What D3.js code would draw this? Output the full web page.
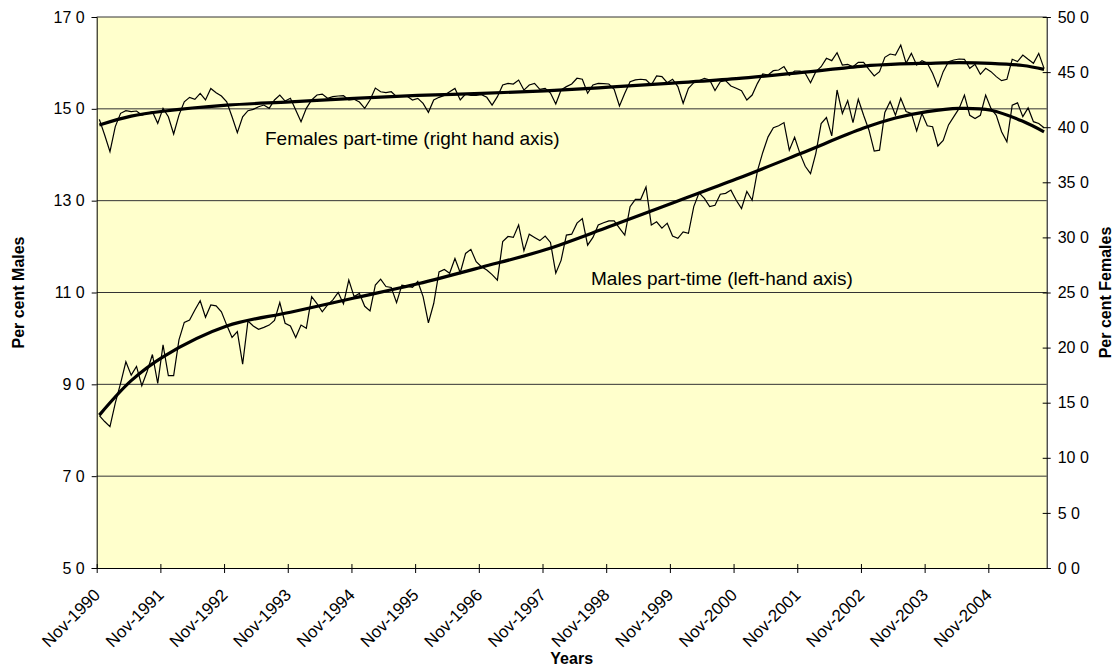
<!DOCTYPE html>
<html>
<head>
<meta charset="utf-8">
<script src="https://cdn.jsdelivr.net/npm/d3@7"></script>
<style>
  body { margin: 0; background: #fff; }
  svg { display: block; font-family: Arial, "Liberation Sans", sans-serif; }
</style>
</head>
<body>
<div id="chart"></div>
<script>
// Part-time share of employment, monthly, Nov-1990 to Sep-2005
let males = [
  8.32, 8.19, 8.08, 8.59, 9.02, 9.49, 9.20, 9.39, 8.97, 9.28, 9.65, 9.02,
  9.86, 9.19, 9.19, 9.97, 10.35, 10.40, 10.62, 10.82, 10.46, 10.73, 10.71, 10.58,
  10.29, 10.02, 10.15, 9.44, 10.38, 10.27, 10.20, 10.24, 10.29, 10.39, 10.78, 10.33,
  10.27, 10.02, 10.29, 10.22, 10.91, 10.76, 10.58, 10.73, 10.84, 11.00, 10.75, 11.27,
  10.91, 10.98, 10.70, 10.60, 11.16, 11.29, 11.13, 11.11, 10.78, 11.16, 11.14, 11.11,
  11.24, 10.91, 10.34, 10.76, 11.45, 11.50, 11.42, 11.74, 11.43, 11.85, 11.94, 11.67,
  11.56, 11.49, 11.39, 11.27, 12.11, 12.22, 12.20, 12.47, 11.91, 12.27, 12.20, 12.13,
  12.23, 12.09, 11.42, 11.70, 12.25, 12.27, 12.51, 12.61, 12.03, 12.20, 12.47, 12.52,
  12.56, 12.56, 12.40, 12.25, 12.87, 13.03, 13.03, 13.30, 12.47, 12.54, 12.40, 12.51,
  12.23, 12.18, 12.32, 12.29, 12.87, 13.17, 13.05, 12.87, 12.90, 13.14, 13.16, 13.23,
  13.01, 12.83, 13.20, 13.01, 13.65, 14.05, 14.39, 14.59, 14.63, 14.70, 14.10, 14.38,
  14.03, 13.75, 13.59, 14.03, 14.68, 14.81, 14.41, 15.41, 14.90, 15.18, 14.70, 15.21,
  14.86, 14.54, 14.08, 14.10, 14.92, 15.16, 14.86, 15.23, 14.94, 14.90, 14.52, 14.90,
  14.63, 14.61, 14.19, 14.31, 14.65, 14.83, 15.01, 15.30, 14.86, 14.79, 14.86, 15.30,
  15.01, 14.86, 14.50, 14.28, 15.08, 15.13, 14.83, 15.02, 14.72, 14.68, 14.59
];

let females = [
  40.71, 39.29, 37.78, 40.05, 41.26, 41.50, 41.41, 41.47, 41.10, 41.26, 41.41, 40.35,
  41.71, 40.95, 39.38, 41.10, 42.31, 42.71, 42.53, 43.07, 42.47, 43.52, 43.13, 42.83,
  42.31, 40.95, 39.50, 40.95, 41.50, 41.62, 41.86, 42.01, 41.71, 42.47, 42.92, 42.37,
  42.62, 41.56, 40.50, 41.71, 42.47, 42.92, 43.00, 42.62, 42.77, 42.83, 42.86, 42.47,
  42.53, 42.28, 41.71, 42.47, 43.55, 43.22, 43.13, 43.22, 42.77, 42.83, 42.80, 42.47,
  42.62, 42.16, 41.35, 42.47, 42.71, 42.89, 43.22, 43.52, 42.47, 43.01, 42.89, 42.89,
  42.95, 42.71, 42.01, 42.77, 43.83, 43.98, 43.92, 44.28, 43.37, 43.83, 43.98, 43.43,
  43.52, 43.10, 42.10, 43.38, 43.68, 43.92, 44.44, 44.35, 43.08, 43.83, 43.98, 43.95,
  43.92, 43.44, 41.93, 43.08, 44.13, 44.29, 44.35, 44.29, 43.83, 44.65, 44.59, 44.04,
  44.35, 43.68, 42.17, 43.53, 44.04, 44.22, 44.44, 44.29, 43.32, 44.13, 44.22, 43.74,
  43.53, 43.32, 42.47, 42.92, 43.98, 44.83, 44.74, 45.13, 45.19, 45.50, 44.70, 45.10,
  45.10, 44.89, 44.04, 45.04, 45.49, 46.25, 46.04, 46.76, 45.64, 45.70, 45.49, 45.89,
  45.89, 45.25, 44.65, 45.04, 46.34, 46.64, 46.55, 47.46, 45.80, 46.70, 45.64, 46.04,
  45.80, 44.89, 43.68, 45.04, 45.95, 46.10, 46.19, 46.16, 45.34, 45.70, 44.80, 45.34,
  45.04, 44.59, 44.22, 44.34, 46.16, 45.95, 46.55, 46.16, 45.80, 46.70, 45.34
];

// trend lines at these month positions
let trendMonths = [0, 6, 12, 24, 36, 48, 60, 72, 84, 96, 108, 120, 132, 144, 150, 156, 162, 168, 174, 178];
let maleTrend = [8.33, 9.08, 9.6, 10.27, 10.57, 10.88, 11.19, 11.55, 11.93, 12.43, 12.95, 13.47, 14.02, 14.58, 14.80, 14.94, 15.01, 14.97, 14.73, 14.50];
let femaleTrend = [40.2, 41.0, 41.45, 42.0, 42.3, 42.62, 42.88, 43.07, 43.3, 43.63, 44.0, 44.4, 44.95, 45.55, 45.72, 45.8, 45.86, 45.8, 45.6, 45.25];

let yearTicks = [0, 12, 24, 36, 48, 60, 72, 84, 96, 108, 120, 132, 144, 156, 168];
let yearLabels = ['Nov-1990', 'Nov-1991', 'Nov-1992', 'Nov-1993', 'Nov-1994', 'Nov-1995', 'Nov-1996',
  'Nov-1997', 'Nov-1998', 'Nov-1999', 'Nov-2000', 'Nov-2001', 'Nov-2002', 'Nov-2003', 'Nov-2004'];

let leftTicks = [5, 7, 9, 11, 13, 15, 17];
let leftLabels = ['5 0', '7 0', '9 0', '11 0', '13 0', '15 0', '17 0'];
let rightTicks = [0, 5, 10, 15, 20, 25, 30, 35, 40, 45, 50];
let rightLabels = ['0 0', '5 0', '10 0', '15 0', '20 0', '25 0', '30 0', '35 0', '40 0', '45 0', '50 0'];

// svg size and plot area
let svgWidth = 1114;
let svgHeight = 667;
let plot = { left: 96.7, right: 1046.7, top: 17, bottom: 568 };
let fontFamily = 'Arial, "Liberation Sans", sans-serif';

let svg = d3.select('#chart')
  .append('svg')
  .attr('width', svgWidth)
  .attr('height', svgHeight);

// scales: category axis with points between tick marks
let xScale = d3.scaleLinear()
  .domain([0, males.length])
  .range([plot.left, plot.right]);
let xPoint = i => xScale(i + 0.5);

let yLeft = d3.scaleLinear().domain([5, 17]).range([plot.bottom, plot.top]);
let yRight = d3.scaleLinear().domain([0, 50]).range([plot.bottom, plot.top]);

// plot background
svg.append('rect')
  .attr('x', plot.left)
  .attr('y', plot.top)
  .attr('width', plot.right - plot.left)
  .attr('height', plot.bottom - plot.top)
  .attr('fill', '#FFFFCC');

// gridlines
svg.append('g')
  .selectAll('line')
  .data(leftTicks.slice(1))
  .enter()
  .append('line')
  .attr('x1', plot.left)
  .attr('x2', plot.right)
  .attr('y1', d => yLeft(d))
  .attr('y2', d => yLeft(d))
  .attr('stroke', '#333')
  .attr('stroke-width', 1);

// left axis
let leftAxis = d3.axisLeft(yLeft)
  .tickValues(leftTicks)
  .tickSize(5)
  .tickPadding(7)
  .tickFormat((d, i) => leftLabels[i]);

svg.append('g')
  .attr('transform', `translate(${plot.left}, 0)`)
  .call(leftAxis)
  .call(g => g.selectAll('text').attr('font-size', 16).attr('fill', '#000').attr('font-family', fontFamily))
  .call(g => g.selectAll('line, path').attr('stroke', '#000'));

// right axis, ticks cross the axis line
let rightAxis = d3.axisRight(yRight)
  .tickValues(rightTicks)
  .tickSize(4)
  .tickPadding(7)
  .tickFormat((d, i) => rightLabels[i]);

svg.append('g')
  .attr('transform', `translate(${plot.right}, 0)`)
  .call(rightAxis)
  .call(g => g.selectAll('.tick line').attr('x1', -4))
  .call(g => g.selectAll('text').attr('font-size', 16).attr('fill', '#000').attr('font-family', fontFamily))
  .call(g => g.selectAll('line, path').attr('stroke', '#000'));

// bottom axis
let bottomAxis = d3.axisBottom(xScale)
  .tickValues(yearTicks)
  .tickSize(5)
  .tickSizeOuter(0)
  .tickFormat((d, i) => yearLabels[i]);

svg.append('g')
  .attr('transform', `translate(0, ${plot.bottom})`)
  .call(bottomAxis)
  .call(g => g.selectAll('.tick line').attr('y1', -4))
  .call(g => g.selectAll('line, path').attr('stroke', '#000'))
  .call(g => g.selectAll('text')
    .attr('font-size', 17)
    .attr('fill', '#000')
    .attr('font-family', fontFamily)
    .attr('text-anchor', 'end')
    .attr('dy', 0)
    .attr('y', 0)
    .attr('transform', 'translate(4, 28) rotate(-45)'));

// series lines
let maleLine = d3.line()
  .x((d, i) => xPoint(i))
  .y(d => yLeft(d));

let femaleLine = d3.line()
  .x((d, i) => xPoint(i))
  .y(d => yRight(d));

svg.append('path')
  .datum(females)
  .attr('d', femaleLine)
  .attr('fill', 'none')
  .attr('stroke', '#000')
  .attr('stroke-width', 1.2);

svg.append('path')
  .datum(males)
  .attr('d', maleLine)
  .attr('fill', 'none')
  .attr('stroke', '#000')
  .attr('stroke-width', 1.2);

// trend lines
let maleTrendLine = d3.line()
  .x((d, i) => xPoint(trendMonths[i]))
  .y(d => yLeft(d))
  .curve(d3.curveCatmullRom);

let femaleTrendLine = d3.line()
  .x((d, i) => xPoint(trendMonths[i]))
  .y(d => yRight(d))
  .curve(d3.curveCatmullRom);

svg.append('path')
  .datum(femaleTrend)
  .attr('d', femaleTrendLine)
  .attr('fill', 'none')
  .attr('stroke', '#000')
  .attr('stroke-width', 3.2);

svg.append('path')
  .datum(maleTrend)
  .attr('d', maleTrendLine)
  .attr('fill', 'none')
  .attr('stroke', '#000')
  .attr('stroke-width', 3.2);

// series labels
svg.append('text')
  .attr('x', 265)
  .attr('y', 145)
  .attr('font-size', 19)
  .attr('fill', '#000')
  .text('Females part-time (right hand axis)');

svg.append('text')
  .attr('x', 591)
  .attr('y', 285)
  .attr('font-size', 19)
  .attr('fill', '#000')
  .text('Males part-time (left-hand axis)');

// axis titles
svg.append('text')
  .attr('transform', `translate(24, ${(plot.top + plot.bottom) / 2}) rotate(-90)`)
  .attr('text-anchor', 'middle')
  .attr('font-size', 16)
  .attr('font-weight', 'bold')
  .text('Per cent Males');

svg.append('text')
  .attr('transform', `translate(1111, ${(plot.top + plot.bottom) / 2}) rotate(-90)`)
  .attr('text-anchor', 'middle')
  .attr('font-size', 16)
  .attr('font-weight', 'bold')
  .text('Per cent Females');

svg.append('text')
  .attr('x', (plot.left + plot.right) / 2)
  .attr('y', 664)
  .attr('text-anchor', 'middle')
  .attr('font-size', 16)
  .attr('font-weight', 'bold')
  .text('Years');
</script>
</body>
</html>
